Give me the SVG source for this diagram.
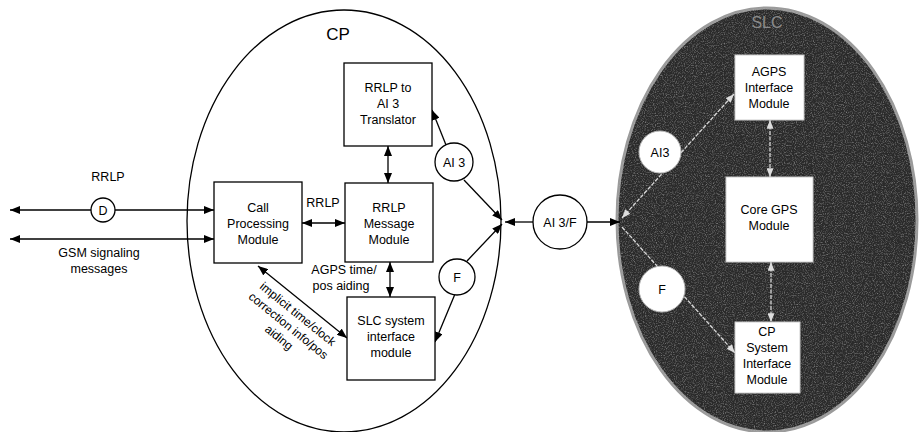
<svg xmlns="http://www.w3.org/2000/svg" width="919" height="432" viewBox="0 0 919 432">
<defs>
<marker id="ah" viewBox="0 0 10 8" refX="10" refY="4" markerWidth="10" markerHeight="8" markerUnits="userSpaceOnUse" orient="auto-start-reverse"><path d="M0,0 L10,4 L0,8 Z" fill="#000"/></marker>
<marker id="ahw" viewBox="0 0 10 8" refX="10" refY="4" markerWidth="9" markerHeight="7" markerUnits="userSpaceOnUse" orient="auto-start-reverse"><path d="M0,0 L10,4 L0,8 Z" fill="#ddd"/></marker>
<filter id="grain" x="0" y="0" width="100%" height="100%">
<feTurbulence type="fractalNoise" baseFrequency="0.9" numOctaves="2" seed="3" result="n"/>
<feColorMatrix in="n" type="matrix" values="0 0 0 0 0.55  0 0 0 0 0.55  0 0 0 0 0.55  0 0 0 1.2 -0.55" result="g"/>
<feComposite in="g" in2="SourceGraphic" operator="in"/>
</filter>
</defs>
<style>
text{font-family:"Liberation Sans",Arial,sans-serif;font-size:12.5px;fill:#000;text-anchor:middle}
.box{fill:#fff;stroke:#000;stroke-width:1.3}
.wbox{fill:#fff;stroke:#ccc;stroke-width:1}
.ln{stroke:#000;stroke-width:1.3;fill:none}
.wl{stroke:#d8d8d8;stroke-width:1.3;fill:none;stroke-dasharray:4 1.5}
.circ{fill:#fff;stroke:#000;stroke-width:1.3}
.wcirc{fill:#fff;stroke:#bbb;stroke-width:1}
.rot{font-size:12px}
</style>
<rect width="919" height="432" fill="#fff"/>
<g id="cp">
<ellipse cx="344" cy="221" rx="157" ry="211" fill="#fff" stroke="#000" stroke-width="1.3"/>
<text x="338" y="40" style="font-size:17px">CP</text>
</g>
<g id="slc">
<ellipse cx="767" cy="220" rx="150" ry="212" fill="#2a2a2a" stroke="#9a9a9a" stroke-width="3"/>
<ellipse cx="767" cy="220" rx="150" ry="212" fill="#fff" filter="url(#grain)"/>
<text x="767" y="28" style="font-size:16px;fill:#8a8a8a">SLC</text>
</g>
<g id="connectors">
<line class="ln" x1="10" y1="210" x2="214" y2="210" marker-start="url(#ah)" marker-end="url(#ah)"/>
<line class="ln" x1="10" y1="239" x2="214" y2="239" marker-start="url(#ah)" marker-end="url(#ah)"/>
<line class="ln" x1="302" y1="223" x2="345" y2="223" marker-start="url(#ah)" marker-end="url(#ah)"/>
<line class="ln" x1="388" y1="146" x2="388" y2="183" marker-start="url(#ah)" marker-end="url(#ah)"/>
<line class="ln" x1="390" y1="262" x2="390" y2="297" marker-start="url(#ah)" marker-end="url(#ah)"/>
<line class="ln" x1="258" y1="266" x2="347" y2="338" marker-start="url(#ah)" marker-end="url(#ah)"/>
<line class="ln" x1="446" y1="145" x2="432" y2="110" marker-end="url(#ah)"/>
<line class="ln" x1="464" y1="180" x2="502" y2="220" marker-end="url(#ah)"/>
<line class="ln" x1="467" y1="261" x2="502" y2="224" marker-end="url(#ah)"/>
<line class="ln" x1="455" y1="294" x2="435" y2="342" marker-end="url(#ah)"/>
<line class="ln" x1="505" y1="222" x2="533" y2="222" marker-start="url(#ah)"/>
<line class="ln" x1="587" y1="222" x2="620" y2="222" marker-end="url(#ah)"/>
<line class="wl" x1="622" y1="218" x2="734" y2="94" marker-start="url(#ahw)" marker-end="url(#ahw)"/>
<line class="wl" x1="622" y1="227" x2="735" y2="353" marker-end="url(#ahw)"/>
<line class="wl" x1="770" y1="120" x2="770" y2="177" marker-start="url(#ahw)" marker-end="url(#ahw)"/>
<line class="wl" x1="771" y1="262" x2="771" y2="322" marker-start="url(#ahw)" marker-end="url(#ahw)"/>
</g>
<g id="d-circle"><circle class="circ" cx="103" cy="210" r="12"/><text x="103" y="215">D</text></g>
<g id="rrlp-label"><text x="108" y="181">RRLP</text></g>
<g id="gsm-label"><text x="99" y="257">GSM signaling</text><text x="99" y="273">messages</text></g>
<g id="translator"><rect class="box" x="344" y="63" width="88" height="83"/><text x="388" y="92">RRLP to</text><text x="388" y="108">AI 3</text><text x="388" y="124">Translator</text></g>
<g id="call-processing"><rect class="box" x="214" y="182" width="88" height="81"/><text x="258" y="212">Call</text><text x="258" y="228">Processing</text><text x="258" y="244">Module</text></g>
<g id="rrlp-msg"><rect class="box" x="345" y="183" width="88" height="79"/><text x="389" y="212">RRLP</text><text x="389" y="228">Message</text><text x="389" y="244">Module</text></g>
<g id="rrlp-link-label"><text x="323" y="207">RRLP</text></g>
<g id="agps-aiding-label"><text x="344" y="274">AGPS time/</text><text x="341" y="290">pos aiding</text></g>
<g id="slc-sys"><rect class="box" x="347" y="297" width="88" height="83"/><text x="391" y="325">SLC system</text><text x="391" y="341">interface</text><text x="391" y="357">module</text></g>
<g id="implicit-label" transform="translate(289,325) rotate(39)"><text class="rot" x="0" y="-10">implicit time/clock</text><text class="rot" x="0" y="5">correction info/pos</text><text class="rot" x="0" y="20">aiding</text></g>
<g id="ai3-cp"><circle class="circ" cx="454" cy="162" r="19"/><text x="454" y="167">AI 3</text></g>
<g id="f-cp"><circle class="circ" cx="457" cy="277" r="18"/><text x="457" y="282">F</text></g>
<g id="ai3f"><circle class="circ" cx="560" cy="222" r="27"/><text x="560" y="227">AI 3/F</text></g>
<g id="agps-if"><rect class="wbox" x="735" y="55" width="69" height="65"/><text x="769" y="76">AGPS</text><text x="769" y="92">Interface</text><text x="769" y="108">Module</text></g>
<g id="core-gps"><rect class="wbox" x="726" y="177" width="87" height="85"/><text x="769" y="214">Core GPS</text><text x="769" y="230">Module</text></g>
<g id="cp-sys"><rect class="wbox" x="735" y="322" width="65" height="71"/><text x="767" y="336">CP</text><text x="767" y="352">System</text><text x="767" y="368">Interface</text><text x="767" y="384">Module</text></g>
<g id="ai3-slc"><circle class="wcirc" cx="660" cy="152" r="21"/><text x="660" y="157">AI3</text></g>
<g id="f-slc"><circle class="wcirc" cx="662" cy="289" r="23"/><text x="662" y="294">F</text></g>
</svg>
